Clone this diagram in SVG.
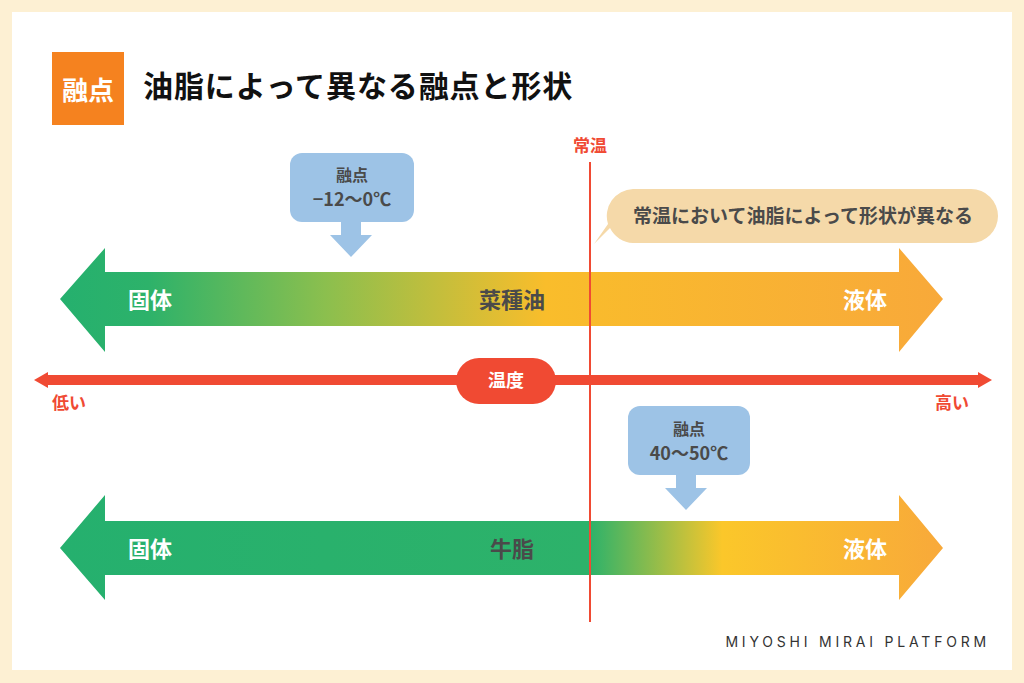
<svg xmlns="http://www.w3.org/2000/svg" width="1024" height="683" viewBox="0 0 1024 683">
<style>
.t{font-family:"Noto Sans CJK JP","Noto Sans",sans-serif;font-weight:700}
.w{fill:#fff;font-size:22px}
.d{fill:#4a4a4a}
.r{fill:#f04a33;font-size:17px}
</style>
<defs>
<linearGradient id="g1" x1="60" x2="943" gradientUnits="userSpaceOnUse">
<stop offset="0" stop-color="#25b06e"/><stop offset="0.1" stop-color="#2db26a"/><stop offset="0.3" stop-color="#8bbf4e"/><stop offset="0.55" stop-color="#f9bd2b"/><stop offset="1" stop-color="#f8a93a"/></linearGradient>
<linearGradient id="g2" x1="60" x2="943" gradientUnits="userSpaceOnUse">
<stop offset="0" stop-color="#25b06e"/><stop offset="0.6" stop-color="#2db26a"/><stop offset="0.75" stop-color="#fbc72a"/><stop offset="1" stop-color="#f8a93a"/></linearGradient>
</defs>
<rect width="1024" height="683" fill="#fdf0d3"/>
<rect x="12" y="12" width="1000" height="658" fill="#fff"/>
<g id="title"><rect x="52" y="52" width="72" height="73" fill="#f5821f"/>
<text class="t" x="88" y="100" font-size="26" fill="#fff" text-anchor="middle">融点</text>
<text class="t" x="143" y="97" font-size="30" letter-spacing="0.9" fill="#111">油脂によって異なる融点と形状</text></g>
<g id="arrow-rapeseed"><path d="M60 299 L105 248 V272 H899 V248 L943 299 L899 352 V326 H105 V352 Z" fill="url(#g1)"/>
<text class="t w" x="128" y="308">固体</text><text class="t d" x="512" y="308" font-size="22" text-anchor="middle">菜種油</text><text class="t w" x="843" y="308">液体</text></g>
<g id="arrow-beef"><path d="M60 548 L105 495 V521 H899 V495 L943 548 L899 600 V575 H105 V600 Z" fill="url(#g2)"/>
<text class="t w" x="128" y="557">固体</text><text class="t d" x="512" y="557" font-size="22" text-anchor="middle">牛脂</text><text class="t w" x="843" y="557">液体</text></g>
<g id="connectors">
<path d="M48 375 V372 L34 380 L48 388 V385 H978 V388 L992 380 L978 372 V375 Z" fill="#f04a33"/>
<line x1="590" y1="162" x2="590" y2="622" stroke="#f04a33" stroke-width="2"/>
</g>
<g id="axis"><rect x="456" y="358" width="100" height="46" rx="23" fill="#f04a33"/>
<text class="t" x="506" y="387" font-size="18" fill="#fff" text-anchor="middle">温度</text>
<text class="t r" x="52" y="409">低い</text><text class="t r" x="935" y="409">高い</text>
<text class="t r" x="590" y="152" text-anchor="middle">常温</text></g>
<g id="mp1"><rect x="290" y="153" width="124" height="69" rx="12" fill="#9dc3e6"/>
<path d="M341 222 H361 V235 H372 L351 257 L330 235 H341 Z" fill="#9dc3e6"/>
<text class="t d" x="352" y="181" font-size="16" text-anchor="middle">融点</text>
<text class="t d" x="352" y="206" font-size="18" text-anchor="middle">−12〜0℃</text></g>
<g id="mp2"><rect x="628" y="406" width="122" height="69" rx="12" fill="#9dc3e6"/>
<path d="M676 475 H696 V488 H707 L686 510 L665 488 H676 Z" fill="#9dc3e6"/>
<text class="t d" x="689" y="435" font-size="16" text-anchor="middle">融点</text>
<text class="t d" x="689" y="460" font-size="18" text-anchor="middle">40〜50℃</text></g>
<g id="note"><path d="M633 189 H971 A27 27 0 0 1 971 243 H633 A27 27 0 0 1 610 228 L594 244 L608 224 A27 27 0 0 1 633 189 Z" fill="#f5d9a9"/>
<text class="t d" x="803" y="223" font-size="19" text-anchor="middle">常温において油脂によって形状が異なる</text></g>
<text x="990" y="647" font-family="Inter,'Noto Sans',sans-serif" font-size="14" letter-spacing="3.8" fill="#333" text-anchor="end">MIYOSHI MIRAI PLATFORM</text>
</svg>
